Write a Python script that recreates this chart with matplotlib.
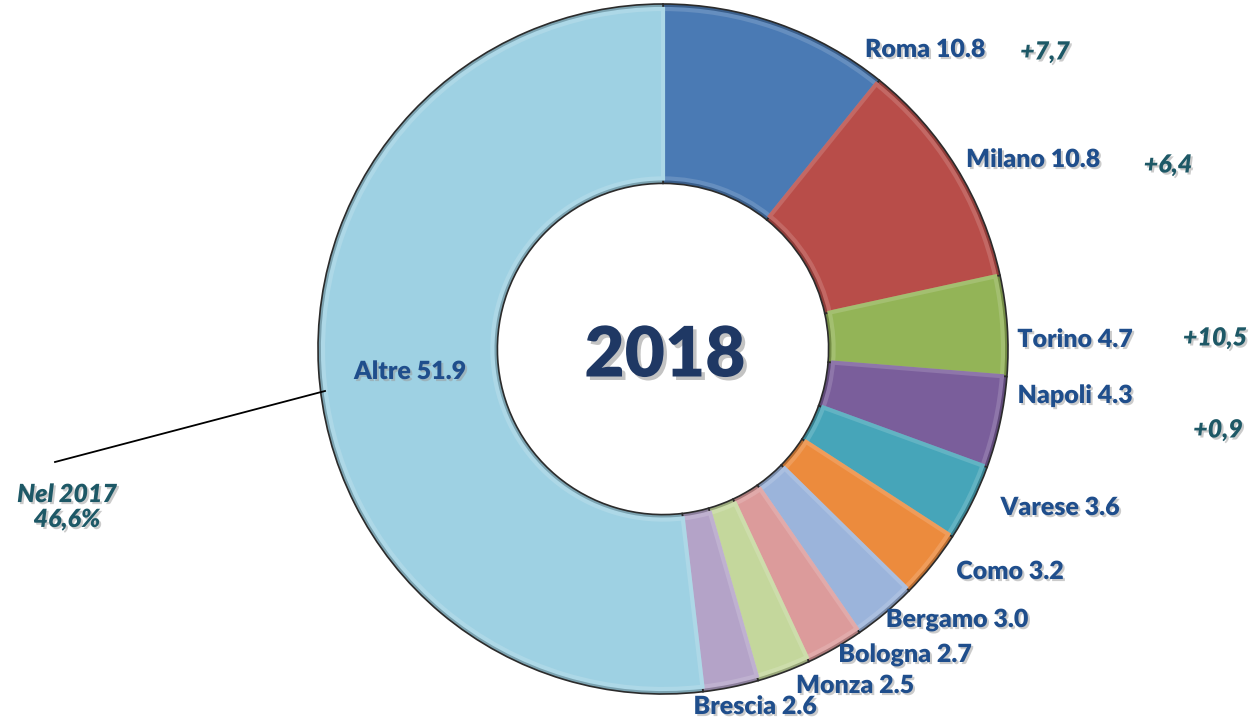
import matplotlib
matplotlib.use("Agg")
import matplotlib.pyplot as plt
import matplotlib.patheffects as pe
import matplotlib.colors as mcolors

# ---- data ----
cities = ["Roma", "Milano", "Torino", "Napoli", "Varese", "Como",
          "Bergamo", "Bologna", "Monza", "Brescia", "Altre"]
shares_2018 = [10.8, 10.8, 4.7, 4.3, 3.6, 3.2, 3.0, 2.7, 2.5, 2.6, 51.9]
delta_labels = ["+7,7", "+6,4", "+10,5", "+0,9"]
center_title = "2018"
note_text = "Nel 2017\n46,6%"

# ---- style ----
slice_colors = ["#4a7ab4", "#b84d49", "#93b457", "#7a5e9b", "#46a5b9", "#ec8b3d",
                "#9bb4db", "#dc9b9b", "#c4d79c", "#b4a3c8", "#9ed1e3"]
label_pos = [(925, 50), (1033, 160), (1075, 340), (1075, 396), (1060, 508),
             (1010, 572), (957, 620), (905, 655), (855, 686), (755, 707), (410, 372)]
delta_pos = [(1045, 52), (1168, 165), (1215, 338), (1218, 430)]
W, H = 1253, 720
cx, cy, R = 663, 349, 345
ring = 0.52 * R

plt.rcParams['font.family'] = ['Lato', 'DejaVu Sans']
fig = plt.figure(figsize=(W / 100, H / 100), dpi=100)
ax = fig.add_axes([0, 0, 1, 1])

def darker(c, f=0.72):
    r, g, b = mcolors.to_rgb(c)
    return (r * f, g * f, b * f)

def lighter(c, f=0.3):
    r, g, b = mcolors.to_rgb(c)
    return (r + (1 - r) * f, g + (1 - g) * f, b + (1 - b) * f)

# outer bevel (dark rim)
w1, _ = ax.pie(shares_2018, colors=[darker(c, 0.78) for c in slice_colors],
               startangle=90, counterclock=False,
               center=(cx, H - cy), radius=R, frame=True,
               wedgeprops=dict(width=ring, edgecolor='#2b2b2b', linewidth=1.2))
# main face with soft bevel edge
w3, _ = ax.pie(shares_2018, colors=slice_colors, startangle=90, counterclock=False,
               center=(cx, H - cy), radius=R - 5, frame=True,
               wedgeprops=dict(width=ring - 10, linewidth=3))
for w, c in zip(w3, slice_colors):
    w.set_edgecolor(lighter(c, 0.15))

ax.set_xlim(0, W)
ax.set_ylim(0, H)
ax.set_aspect('equal')
ax.axis('off')

shadow = [pe.SimplePatchShadow(offset=(1.5, -1.5), shadow_rgbFace='#999999', alpha=0.5), pe.Normal()]

for name, val, (x, y) in zip(cities, shares_2018, label_pos):
    t = ax.text(x, H - y, f"{name} {val:.1f}", ha='center', va='center',
                fontsize=18, fontweight='heavy', color='#1f4e8c')
    t.set_path_effects(shadow)

for d, (x, y) in zip(delta_labels, delta_pos):
    t = ax.text(x, H - y, d, ha='center', va='center', fontsize=18,
                fontweight='heavy', fontstyle='italic', color='#1d5866')
    t.set_path_effects(shadow)

t = ax.text(cx + 2, H - 357, center_title, ha='center', va='center', fontsize=50,
            fontweight='heavy', color='#1f3864')
t.set_path_effects([pe.SimplePatchShadow(offset=(2.5, -2.5), shadow_rgbFace='#888888', alpha=0.5),
                    pe.Normal()])

t = ax.text(67, H - 507, note_text, ha='center', va='center', fontsize=18,
            fontweight='heavy', fontstyle='italic', color='#1d5866', linespacing=1.1)
t.set_path_effects(shadow)

ax.plot([55, 325], [H - 462, H - 391], color='black', linewidth=1.3)

fig.savefig("out.png", dpi=100)
